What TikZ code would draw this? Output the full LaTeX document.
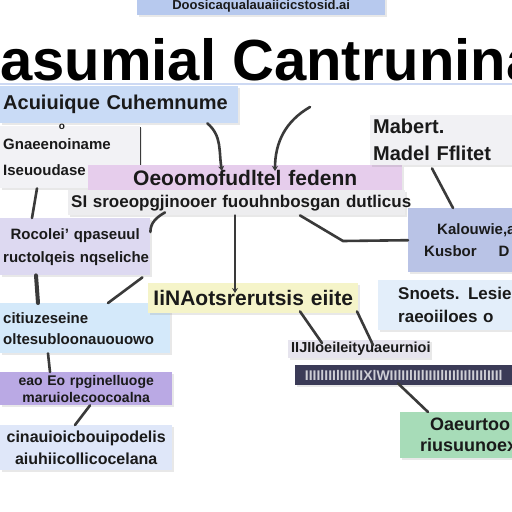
\documentclass[tikz,border=0pt]{standalone}
\usepackage{fontspec}
\setmainfont{Liberation Sans}
\usetikzlibrary{arrows.meta,shadows}

\definecolor{ink}{HTML}{1A1A1A}
\definecolor{wire}{HTML}{3A3A3A}
\definecolor{topfill}{HTML}{B7C9EE}
\definecolor{acuifill}{HTML}{C9DBF6}
\definecolor{panelfill}{HTML}{F2F2F5}
\definecolor{pinkfill}{HTML}{E6CDEC}
\definecolor{sifill}{HTML}{EDEDEF}
\definecolor{mabfill}{HTML}{F1F1F4}
\definecolor{kalfill}{HTML}{B9C3E6}
\definecolor{lpfill}{HTML}{DDD9F1}
\definecolor{yelfill}{HTML}{F5F4C9}
\definecolor{snofill}{HTML}{E3EEFA}
\definecolor{lbfill}{HTML}{D4E9FA}
\definecolor{midfill}{HTML}{E6E4EE}
\definecolor{barfill}{HTML}{3B3B57}
\definecolor{purfill}{HTML}{BAA9E4}
\definecolor{lgfill}{HTML}{DFE7F9}
\definecolor{grnfill}{HTML}{A7DCB8}

\newcommand{\fs}[2]{\bfseries\fontsize{#1}{#2}\selectfont}

\begin{document}
\begin{tikzpicture}[x=1pt,y=-1pt,
    box/.style={rectangle, anchor=north west, inner xsep=3pt, inner ysep=0pt,
      align=center, text=ink, font=\bfseries,
      drop shadow={opacity=0.18, shadow xshift=2pt, shadow yshift=-2pt}},
    conn/.style={draw=wire, line width=2.6pt, line cap=round},
    tip/.style={-{Stealth[length=5pt,width=6pt]}}]
\clip (0,0) rectangle (512,512);
\fill[white] (0,0) rectangle (512,512);

% title
\node[box, fill=topfill, text width=242, minimum height=18, font=\fs{13}{15}] (top) at (137,-3)
  {Doosicaqualauaiicicstosid.ai};
\draw[topfill!70, line width=2pt] (0,84) -- (512,84);
\node[anchor=base west, inner sep=0pt, text=black,
  font=\fs{58}{60}] (title) at (0,80) {asumial Cantrunina};

% left column
\node[box, fill=acuifill, text width=232, minimum height=37, align=left, font=\fs{20}{22}] (acui) at (0,86)
  {Acuiuique Cuhemnume};
\node[box, fill=panelfill, text width=134, minimum height=62, align=left, drop shadow={opacity=0},
  font=\fs{15}{26}] (panel) at (0,126)
  {Gnaeenoiname\\Iseuoudase};
\node[inner sep=0pt, text=ink, font=\fs{10}{10}] (dot) at (62,127) {o};
\draw[wire, line width=1pt] ([yshift=-1]panel.north east) -- ([yshift=23]panel.south east);

\node[box, fill=lpfill, text width=144, minimum height=57, font=\fs{15}{23}] (leftp) at (0,218)
  {Rocolei' qpaseuul\\\mbox{ructolqeis nqseliche}};
\node[box, fill=lbfill, text width=164, minimum height=50, align=left, font=\fs{15}{21}] (leftb) at (0,303)
  {citiuzeseine\\oltesubloonauouowo};
\node[box, fill=purfill, text width=166, minimum height=33, font=\fs{14}{17}] (purple) at (0,372)
  {\mbox{eao Eo rpginelluoge}\\maruiolecoocoalna};
\node[box, fill=lgfill, text width=166, minimum height=45, font=\fs{16}{22}] (lightb) at (0,425)
  {cinauioicbouipodelis\\aiuhiicollicocelana};

% middle
\node[box, fill=pinkfill, text width=308, minimum height=25, font=\fs{21}{23}] (pink) at (88,165)
  {Oeoomofudltel fedenn};
\node[box, fill=sifill, text width=331, minimum height=25, font=\fs{17}{19}] (si) at (68,190)
  {\mbox{SI sroeopgjinooer fuouhnbosgan dutlicus}};
\node[box, fill=yelfill, text width=204, minimum height=30, font=\fs{21}{23}] (yellow) at (148,283)
  {\mbox{IiNAotsrerutsis eiite}};
\node[box, fill=midfill, text width=136, minimum height=18, font=\fs{14.5}{16}] (mid) at (288,340)
  {IIJIIoeiIeityuaeurnioi};
\node[box, fill=barfill, text=barfill!25, text width=211, minimum height=20, font=\fs{14}{16}] (bar) at (295,365)
  {IIIIlIIIlIIIIlIXlWIIlIIlIIlIIIIlIIIlIIlIIIlIIIl};

% right column
\node[box, fill=mabfill, text width=136, minimum height=50, align=left, font=\fs{20}{27}] (mabert) at (370,115)
  {Mabert.\\\mbox{Madel Fflitet}};
\node[box, fill=kalfill, text width=98, minimum height=64, align=left, font=\fs{15}{22}] (kalou) at (408,208)
  {\mbox{\hspace{26pt}Kalouwie,a}\\\mbox{\hspace{13pt}Kusbor\hspace{22pt}D}};
\node[box, fill=snofill, text width=128, minimum height=50, align=left, font=\fs{17}{23}] (snoets) at (378,280)
  {\mbox{\hspace{17pt}Snoets. Lesies}\\\mbox{\hspace{17pt}raeoiiloes o}};
\node[box, fill=grnfill, text width=106, minimum height=46, align=left, font=\fs{18}{21}] (green) at (400,412)
  {\mbox{\hspace{27pt}Oaeurtoo}\\\mbox{\hspace{17pt}riusuunoexu}};

% connectors
\coordinate (arcstart) at (310,107);
\draw[conn, tip] ([xshift=-31]acui.south east) to[out=-40, in=100] ([xshift=134, yshift=-6]pink.north west);
\draw[conn, tip] (arcstart) to[out=210, in=90] ([xshift=187, yshift=-6]pink.north west);
\draw[conn] ([xshift=62, yshift=-3]mabert.south west) -- ([xshift=45]kalou.north west);
\draw[conn] ([xshift=232]si.south west) -- (343,241) -- (kalou.west);
\draw[conn, tip] ([xshift=167]si.south west) -- ([xshift=87, yshift=-10]yellow.north west);
\draw[conn] ([yshift=-14]leftp.north east) to[out=90, in=-150] ([xshift=97, yshift=3]si.south west);
\draw[conn] ([xshift=-8, yshift=-2]leftp.south east) -- ([xshift=108]leftb.north west);
\draw[conn, line width=4pt] ([xshift=36]leftp.south west) -- ([xshift=38]leftb.north west);
\draw[conn] ([xshift=37]panel.south west) -- ([xshift=32]leftp.north west);
\draw[conn] ([xshift=48]leftb.south west) -- ([xshift=50]purple.north west);
\draw[conn] ([xshift=90]purple.south west) -- ([xshift=75]lightb.north west);
\draw[conn] ([xshift=152, yshift=2]yellow.south west) -- ([xshift=34, yshift=-3]mid.north west);
\draw[conn] ([xshift=209, yshift=2]yellow.south west) -- ([xshift=85, yshift=-5]mid.north west);
\draw[conn] ([xshift=103, yshift=2]bar.south west) -- ([xshift=28]green.north west);
\end{tikzpicture}
\end{document}
